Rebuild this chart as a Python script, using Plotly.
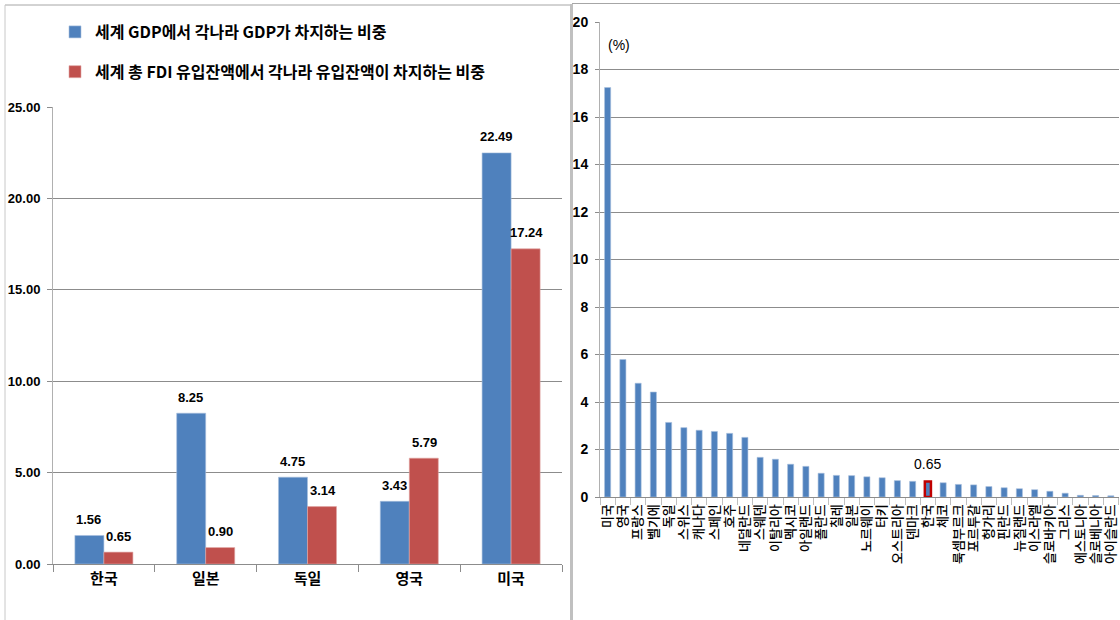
import plotly.graph_objects as go

# ---- left panel: share of world GDP vs share of world inward FDI stock ----
left_countries = ["한국", "일본", "독일", "영국", "미국"]
gdp_share = [1.56, 8.25, 4.75, 3.43, 22.49]
fdi_share = [0.65, 0.90, 3.14, 5.79, 17.24]
series_names = ["세계 GDP에서 각나라 GDP가 차지하는 비중",
                "세계 총 FDI 유입잔액에서 각나라 유입잔액이 차지하는 비중"]
left_yticks = [0, 5, 10, 15, 20, 25]

# ---- right panel: OECD countries' share of inward FDI stock (%) ----
oecd_countries = ["미국", "영국", "프랑스", "벨기에", "독일", "스위스", "캐나다", "스페인",
                  "호주", "네덜란드", "스웨덴", "이탈리아", "멕시코", "아일랜드", "폴란드",
                  "칠레", "일본", "노르웨이", "터키", "오스트리아", "덴마크", "한국", "체코",
                  "룩셈부르크", "포르투갈", "헝가리", "핀란드", "뉴질랜드", "이스라엘",
                  "슬로바키아", "그리스", "에스토니아", "슬로베니아", "아이슬란드"]
oecd_share = [17.24, 5.79, 4.79, 4.42, 3.14, 2.92, 2.81, 2.76, 2.68, 2.51, 1.67, 1.59,
              1.38, 1.29, 1.00, 0.91, 0.90, 0.85, 0.81, 0.69, 0.66, 0.65, 0.60, 0.53,
              0.51, 0.44, 0.39, 0.35, 0.31, 0.24, 0.16, 0.07, 0.06, 0.05]
highlight = "한국"
right_yticks = list(range(0, 21, 2))

BLUE = "#4F81BD"
RED = "#C0504D"
GRID = "#8C8C8C"
W, H = 1120, 620
NUM_FONT = "Liberation Sans Narrow, Liberation Sans, Arial"
KR_FONT = "Noto Sans CJK KR"


def px_x(x):
    return x / W


def px_y(y):
    return 1 - y / H


fig = go.Figure()

bar_w = 0.285
fig.add_trace(go.Bar(x=left_countries, y=gdp_share, name=series_names[0],
                     marker=dict(color=BLUE, line=dict(color="#A7BFDE", width=0.6)),
                     width=bar_w, offset=-bar_w, legendgroup="a",
                     xaxis="x", yaxis="y"))
fig.add_trace(go.Bar(x=left_countries, y=fdi_share, name=series_names[1],
                     marker=dict(color=RED, line=dict(color="#E0A6A4", width=0.6)),
                     width=bar_w, offset=0, legendgroup="b",
                     xaxis="x", yaxis="y"))

line_colors = ["#C00000" if c == highlight else "#A7BFDE" for c in oecd_countries]
line_widths = [2.5 if c == highlight else 0.6 for c in oecd_countries]
fig.add_trace(go.Bar(x=oecd_countries, y=oecd_share, showlegend=False,
                     marker=dict(color=BLUE, line=dict(color=line_colors, width=line_widths)),
                     width=0.4, xaxis="x2", yaxis="y2"))

annotations = []
for i, c in enumerate(left_countries):
    annotations.append(dict(x=c, y=gdp_share[i], xref="x", yref="y", xshift=-15,
                            yshift=16, text=f"{gdp_share[i]:.2f}", showarrow=False,
                            font=dict(family=NUM_FONT, size=13, color="#000000", weight="bold")))
    annotations.append(dict(x=c, y=fdi_share[i], xref="x", yref="y", xshift=15,
                            yshift=16, text=f"{fdi_share[i]:.2f}", showarrow=False,
                            font=dict(family=NUM_FONT, size=13, color="#000000", weight="bold")))

k = oecd_countries.index(highlight)
annotations.append(dict(x=highlight, y=oecd_share[k], xref="x2", yref="y2", yshift=18,
                        text=f"{oecd_share[k]:.2f}", showarrow=False,
                        font=dict(family=NUM_FONT, size=14, color="#000000")))
annotations.append(dict(x=px_x(606), y=px_y(45), xref="paper", yref="paper",
                        xanchor="left", yanchor="middle", text="(%)", showarrow=False,
                        font=dict(family=NUM_FONT, size=14, color="#000000")))

# panel frames
shapes = [
    dict(type="line", xref="paper", yref="paper", x0=px_x(5), x1=px_x(571),
         y0=px_y(5), y1=px_y(5), line=dict(color="#A6A6A6", width=1)),
    dict(type="line", xref="paper", yref="paper", x0=px_x(5), x1=px_x(5),
         y0=px_y(5), y1=0, line=dict(color="#C8C8C8", width=1)),
    dict(type="line", xref="paper", yref="paper", x0=px_x(571.5), x1=px_x(571.5),
         y0=px_y(4), y1=0, line=dict(color="#C0C0C0", width=3)),
    dict(type="line", xref="paper", yref="paper", x0=px_x(572), x1=1,
         y0=px_y(3.5), y1=px_y(3.5), line=dict(color="#A6A6A6", width=1)),
]

fig.update_layout(
    width=W, height=H,
    margin=dict(l=0, r=0, t=0, b=0, autoexpand=False),
    paper_bgcolor="white", plot_bgcolor="white",
    showlegend=True,
    legend=dict(x=px_x(55), y=px_y(15), xanchor="left", yanchor="top",
                font=dict(family=KR_FONT, size=16, color="#000000", weight="bold"),
                tracegroupgap=16, bgcolor="rgba(0,0,0,0)"),
    xaxis=dict(domain=[px_x(53), px_x(562)], anchor="y", type="category",
               automargin=False,
               showline=True, linecolor=GRID, linewidth=1,
               ticks="outside", tickson="boundaries", ticklen=7, tickcolor=GRID,
               tickfont=dict(family=KR_FONT, size=15, color="#000000", weight="bold"),
               ticklabelstandoff=1, showgrid=False),
    yaxis=dict(domain=[px_y(564), px_y(107)], anchor="x", range=[0, 25],
               automargin=False,
               tickvals=left_yticks, ticktext=[f"{v:.2f}" for v in left_yticks],
               showline=True, linecolor="#B0B0B0", linewidth=1,
               ticks="outside", ticklen=5, tickcolor=GRID,
               showgrid=True, gridcolor=GRID, gridwidth=1, zeroline=False,
               tickfont=dict(family=NUM_FONT, size=13, color="#000000", weight="bold"),
               ticklabelstandoff=4),
    xaxis2=dict(domain=[px_x(600), px_x(1118.5)], anchor="y2", type="category",
                automargin=False,
                tickmode="linear", tick0=0, dtick=1,
                showline=True, linecolor=GRID, linewidth=1,
                ticks="outside", tickson="boundaries", ticklen=7, tickcolor="#BFBFBF",
                tickangle=-90,
                tickfont=dict(family=KR_FONT, size=13, color="#000000", weight=500),
                ticklabelstandoff=1, showgrid=False),
    yaxis2=dict(domain=[px_y(497), px_y(22)], anchor="x2", range=[0, 20],
                automargin=False,
                tickvals=right_yticks,
                showline=True, linecolor="#B0B0B0", linewidth=1,
                ticks="outside", ticklen=4, tickcolor=GRID,
                showgrid=True, gridcolor=GRID, gridwidth=1, zeroline=False,
                tickfont=dict(family=NUM_FONT, size=14, color="#000000", weight="bold"),
                ticklabelstandoff=4),
    annotations=annotations,
    shapes=shapes,
)

fig.write_html("out.html")
